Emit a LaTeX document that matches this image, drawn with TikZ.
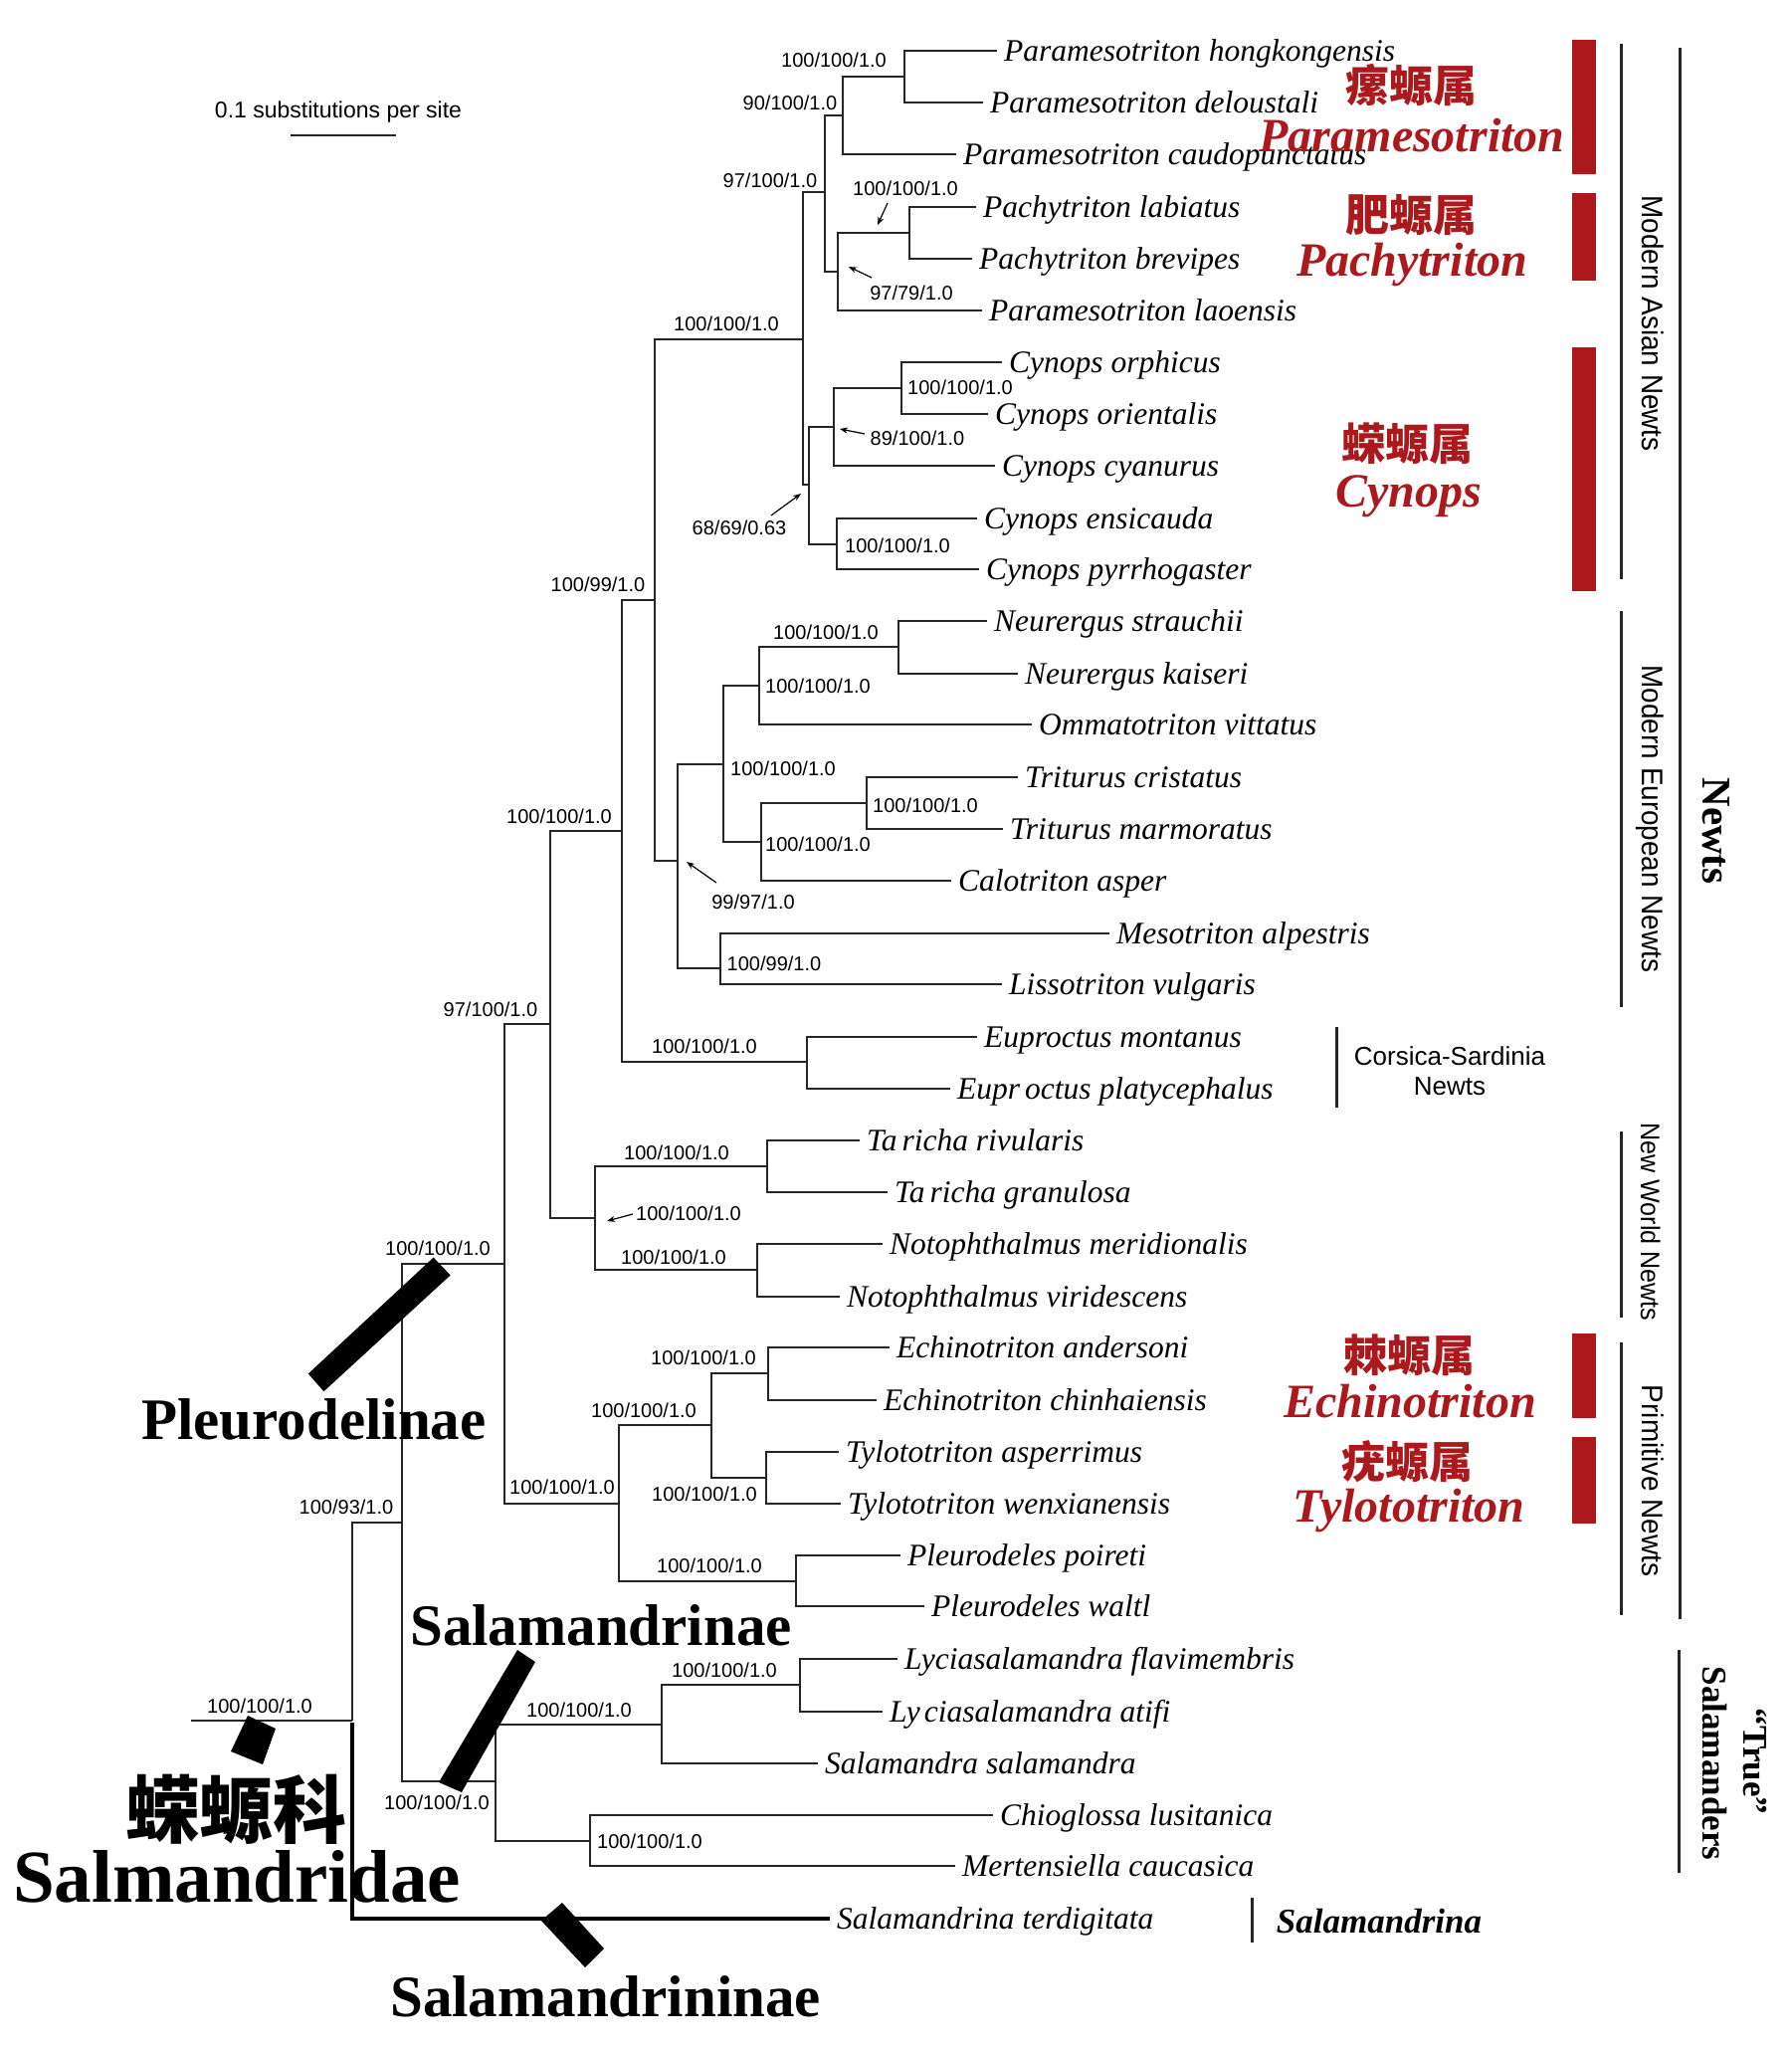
\documentclass[tikz,border=0pt]{standalone}
\usepackage{fontspec}
\setmainfont{Liberation Serif}
\setsansfont{Liberation Sans}
\newfontfamily\cjk{Noto Sans CJK SC}
\usetikzlibrary{arrows.meta}
\definecolor{genred}{RGB}{172,25,29}
\newcommand\mkleaf[4]{\coordinate (l-#1) at (#2,#3);
  \node[sp] (t-#1) at ([xshift=7pt,yshift=-10.5pt]l-#1) {#4};}
\begin{document}
\begin{tikzpicture}[x=1pt,y=-1pt,
  br/.style={line width=1.8pt, black!85, line join=miter},
  thickbr/.style={line width=4.5pt, black},
  sp/.style={font=\fontsize{31.5}{36}\selectfont\itshape, inner sep=0pt, anchor=base west},
  bs/.style={font=\sffamily\fontsize{20}{24}\selectfont, inner sep=0pt},
  arr/.style={line width=1.2pt, -{Stealth[length=8pt,width=6pt]}},
  bk/.style={line width=3pt, black!85},
  clade/.style={font=\sffamily\fontsize{30}{34}\selectfont, rotate=-90, inner sep=0pt, anchor=base},
  redlat/.style={font=\fontsize{48}{52}\selectfont\bfseries\itshape, text=genred, inner sep=0pt, anchor=base},
  redcjk/.style={font=\cjk\bfseries\fontsize{44}{48}\selectfont, text=genred, inner sep=0pt},
  bigbold/.style={font=\bfseries\fontsize{59}{64}\selectfont, inner sep=0pt, anchor=base west},
  redbar/.style={fill=genred}]
\useasboundingbox (0,0) rectangle (1800,2059);

% ---------- internal nodes ----------
\coordinate (Rs) at (192,1729);
\coordinate (R) at (354,1729);
\coordinate (A) at (404,1530);
\coordinate (P) at (507,1270);
\coordinate (S) at (498,1790);
\coordinate (N1) at (553,1029);
\coordinate (PR) at (622,1511);
\coordinate (N2) at (625,835);
\coordinate (NW) at (598,1224);
\coordinate (N3) at (658,603);
\coordinate (Eu) at (811,1067);
\coordinate (As) at (807,341);
\coordinate (Eur) at (681,865);
\coordinate (PP) at (829,193);
\coordinate (Cy) at (813,487);
\coordinate (Pa1) at (847,116);
\coordinate (Pa2) at (909,77);
\coordinate (Pc) at (842,273);
\coordinate (Pc2) at (914,234);
\coordinate (Cy1) at (838,429);
\coordinate (Cy2) at (841,547);
\coordinate (Cy3) at (906,390);
\coordinate (E1) at (727,768);
\coordinate (E2) at (724,973);
\coordinate (E3) at (763,689);
\coordinate (E4) at (903,650);
\coordinate (E5) at (765,846);
\coordinate (E6) at (871,807);
\coordinate (T) at (771,1172);
\coordinate (No) at (761,1276);
\coordinate (PR1) at (715,1432);
\coordinate (Ech) at (772,1380);
\coordinate (Tyl) at (770,1485);
\coordinate (Pl) at (800,1589);
\coordinate (S1) at (665,1733);
\coordinate (S2) at (593,1850);
\coordinate (Ly) at (804,1693);

% ---------- leaves ----------
\mkleaf{hk}{1002}{51}{Paramesotriton hongkongensis}
\mkleaf{del}{988}{103}{Paramesotriton deloustali}
\mkleaf{caud}{961}{155}{Paramesotriton caudopunctatus}
\mkleaf{lab}{981}{208}{Pachytriton labiatus}
\mkleaf{bre}{977}{260}{Pachytriton brevipes}
\mkleaf{lao}{987}{312}{Paramesotriton laoensis}
\mkleaf{orp}{1007}{364}{Cynops orphicus}
\mkleaf{ori}{993}{416}{Cynops orientalis}
\mkleaf{cya}{1000}{468}{Cynops cyanurus}
\mkleaf{ens}{982}{521}{Cynops ensicauda}
\mkleaf{pyr}{984}{572}{Cynops pyrrhogaster}
\mkleaf{str}{992}{624}{Neurergus strauchii}
\mkleaf{kai}{1023}{677}{Neurergus kaiseri}
\mkleaf{vit}{1037}{728}{Ommatotriton vittatus}
\mkleaf{cri}{1023}{781}{Triturus cristatus}
\mkleaf{mar}{1008}{833}{Triturus marmoratus}
\mkleaf{cal}{956}{885}{Calotriton asper}
\mkleaf{alp}{1115}{938}{Mesotriton alpestris}
\mkleaf{vul}{1007}{989}{Lissotriton vulgaris}
\mkleaf{mon}{982}{1042}{Euproctus montanus}
\mkleaf{pla}{955}{1094}{Eupr\hspace{5pt}octus platycephalus}
\mkleaf{riv}{864}{1146}{Ta\hspace{5pt}richa rivularis}
\mkleaf{gra}{892}{1198}{Ta\hspace{5pt}richa granulosa}
\mkleaf{mer}{887}{1250}{Notophthalmus meridionalis}
\mkleaf{vir}{844}{1303}{Notophthalmus viridescens}
\mkleaf{and}{894}{1354}{Echinotriton andersoni}
\mkleaf{chi}{881}{1407}{Echinotriton chinhaiensis}
\mkleaf{asp}{843}{1459}{Tylototriton asperrimus}
\mkleaf{wen}{845}{1511}{Tylototriton wenxianensis}
\mkleaf{poi}{905}{1563}{Pleurodeles poireti}
\mkleaf{wal}{929}{1614}{Pleurodeles waltl}
\mkleaf{fla}{902}{1667}{Lyciasalamandra flavimembris}
\mkleaf{ati}{887}{1720}{Ly\hspace{4pt}ciasalamandra atifi}
\mkleaf{sal}{822}{1772}{Salamandra salamandra}
\mkleaf{chio}{998}{1824}{Chioglossa lusitanica}
\mkleaf{mert}{960}{1875}{Mertensiella caucasica}
\mkleaf{ter}{834}{1928}{Salamandrina terdigitata}

% ---------- branches ----------
\draw[br] (Rs) -- (R);
\draw[br] (R) |- (A);
\draw[thickbr] ([yshift=-2pt]R) |- (l-ter);
\draw[br] (A) |- (P);  \draw[br] (A) |- (S);
\draw[br] (P) |- (N1); \draw[br] (P) |- (PR);
\draw[br] (N1) |- (N2); \draw[br] (N1) |- (NW);
\draw[br] (N2) |- (N3); \draw[br] (N2) |- (Eu);
\draw[br] (N3) |- (As); \draw[br] (N3) |- (Eur);
\draw[br] (As) |- (PP); \draw[br] (As) |- (Cy);
\draw[br] (PP) |- (Pa1); \draw[br] (PP) |- (Pc);
\draw[br] (Pa1) |- (Pa2); \draw[br] (Pa1) |- (l-caud);
\draw[br] (Pa2) |- (l-hk); \draw[br] (Pa2) |- (l-del);
\draw[br] (Pc) |- (Pc2); \draw[br] (Pc) |- (l-lao);
\draw[br] (Pc2) |- (l-lab); \draw[br] (Pc2) |- (l-bre);
\draw[br] (Cy) |- (Cy1); \draw[br] (Cy) |- (Cy2);
\draw[br] (Cy1) |- (Cy3); \draw[br] (Cy1) |- (l-cya);
\draw[br] (Cy3) |- (l-orp); \draw[br] (Cy3) |- (l-ori);
\draw[br] (Cy2) |- (l-ens); \draw[br] (Cy2) |- (l-pyr);
\draw[br] (Eur) |- (E1); \draw[br] (Eur) |- (E2);
\draw[br] (E1) |- (E3); \draw[br] (E1) |- (E5);
\draw[br] (E3) |- (E4); \draw[br] (E3) |- (l-vit);
\draw[br] (E4) |- (l-str); \draw[br] (E4) |- (l-kai);
\draw[br] (E5) |- (E6); \draw[br] (E5) |- (l-cal);
\draw[br] (E6) |- (l-cri); \draw[br] (E6) |- (l-mar);
\draw[br] (E2) |- (l-alp); \draw[br] (E2) |- (l-vul);
\draw[br] (Eu) |- (l-mon); \draw[br] (Eu) |- (l-pla);
\draw[br] (NW) |- (T); \draw[br] (NW) |- (No);
\draw[br] (T) |- (l-riv); \draw[br] (T) |- (l-gra);
\draw[br] (No) |- (l-mer); \draw[br] (No) |- (l-vir);
\draw[br] (PR) |- (PR1); \draw[br] (PR) |- (Pl);
\draw[br] (PR1) |- (Ech); \draw[br] (PR1) |- (Tyl);
\draw[br] (Ech) |- (l-and); \draw[br] (Ech) |- (l-chi);
\draw[br] (Tyl) |- (l-asp); \draw[br] (Tyl) |- (l-wen);
\draw[br] (Pl) |- (l-poi); \draw[br] (Pl) |- (l-wal);
\draw[br] (S) |- (S1); \draw[br] (S) |- (S2);
\draw[br] (S1) |- (Ly); \draw[br] (S1) |- (l-sal);
\draw[br] (Ly) |- (l-fla); \draw[br] (Ly) |- (l-ati);
\draw[br] (S2) |- (l-chio); \draw[br] (S2) |- (l-mert);

% ---------- support values ----------
\node[bs] (s-Pa2) at (838,60) {100/100/1.0};
\node[bs] (s-Pa1) at (794,103) {90/100/1.0};
\node[bs] (s-PP) at (774,181) {97/100/1.0};
\node[bs] (s-Pc2) at (910,189) {100/100/1.0};
\node[bs] (s-Pc) at (916,294) {97/79/1.0};
\node[bs] (s-As) at (730,325) {100/100/1.0};
\node[bs] (s-Cy3) at (965,389) {100/100/1.0};
\node[bs] (s-Cy1) at (922,440) {89/100/1.0};
\node[bs] (s-Cy) at (743,530) {68/69/0.63};
\node[bs] (s-Cy2) at (902,548) {100/100/1.0};
\node[bs] (s-N3) at (601,587) {100/99/1.0};
\node[bs] (s-E4) at (830,635) {100/100/1.0};
\node[bs] (s-E3) at (822,689) {100/100/1.0};
\node[bs] (s-E1) at (787,772) {100/100/1.0};
\node[bs] (s-E6) at (930,809) {100/100/1.0};
\node[bs] (s-N2) at (562,820) {100/100/1.0};
\node[bs] (s-E5) at (822,848) {100/100/1.0};
\node[bs] (s-Eur) at (757,906) {99/97/1.0};
\node[bs] (s-E2) at (778,968) {100/99/1.0};
\node[bs] (s-N1) at (493,1014) {97/100/1.0};
\node[bs] (s-Eu) at (708,1051) {100/100/1.0};
\node[bs] (s-T) at (680,1158) {100/100/1.0};
\node[bs] (s-NW) at (692,1219) {100/100/1.0};
\node[bs] (s-P) at (440,1254) {100/100/1.0};
\node[bs] (s-No) at (677,1263) {100/100/1.0};
\node[bs] (s-Ech) at (707,1364) {100/100/1.0};
\node[bs] (s-PR1) at (647,1417) {100/100/1.0};
\node[bs] (s-PR) at (565,1494) {100/100/1.0};
\node[bs] (s-Tyl) at (708,1501) {100/100/1.0};
\node[bs] (s-A) at (348,1514) {100/93/1.0};
\node[bs] (s-Pl) at (713,1573) {100/100/1.0};
\node[bs] (s-Ly) at (728,1678) {100/100/1.0};
\node[bs] (s-R) at (261,1714) {100/100/1.0};
\node[bs] (s-S1) at (582,1718) {100/100/1.0};
\node[bs] (s-S) at (439,1811) {100/100/1.0};
\node[bs] (s-S2) at (653,1850) {100/100/1.0};

% ---------- pointer arrows ----------
\coordinate (a1s) at (892,204); \coordinate (a1e) at (882,226);
\coordinate (a2s) at (876,279); \coordinate (a2e) at (853,268);
\coordinate (a3s) at (869,436); \coordinate (a3e) at (844,431);
\coordinate (a4s) at (775,518); \coordinate (a4e) at (805,496);
\coordinate (a5s) at (720,887); \coordinate (a5e) at (690,866);
\coordinate (a6s) at (636,1220); \coordinate (a6e) at (610,1227);
\draw[arr] (a1s) -- (a1e);
\draw[arr] (a2s) -- (a2e);
\draw[arr] (a3s) -- (a3e);
\draw[arr] (a4s) -- (a4e);
\draw[arr] (a5s) -- (a5e);
\draw[arr] (a6s) -- (a6e);

% ---------- scale bar ----------
\node[font=\sffamily\fontsize{23}{26}\selectfont, inner sep=0pt] (scale) at (340,113) {0.1 substitutions per site};
\coordinate (sb1) at (292,136); \coordinate (sb2) at (398,136);
\draw[line width=1.8pt, black!85] (sb1) -- (sb2);

% ---------- subfamily bars ----------
\fill (309.8,1380.4) -- (325.4,1398.2) -- (452.7,1281.4) -- (435.7,1263.6) -- cycle;
\fill (520,1658) -- (538,1670) -- (464,1801) -- (441,1791) -- cycle;
\fill (249,1724) -- (277,1737) -- (264,1773) -- (232,1760) -- cycle;
\fill (565,1912) -- (607,1958) -- (588,1977) -- (544,1930) -- cycle;

\node[bigbold] (pleuro) at (142,1446) {Pleurodelinae};
\node[bigbold] (salam) at (412,1653) {Salamandrinae};
\node[bigbold] (salamini) at (392,2026) {Salamandrininae};
\node[font=\cjk\bfseries\fontsize{74}{78}\selectfont, inner sep=0pt] (fam-cn) at (237,1818) {蝾螈科};
\node[font=\bfseries\fontsize{75}{80}\selectfont, inner sep=0pt, anchor=base west] (fam) at (13,1911) {Salmandridae};

% ---------- red genus bars and labels ----------
\fill[redbar] (1580,40) rectangle (1604,175);
\fill[redbar] (1580,194) rectangle (1604,282);
\fill[redbar] (1580,349) rectangle (1604,594);
\fill[redbar] (1580,1340) rectangle (1604,1425);
\fill[redbar] (1580,1444) rectangle (1604,1531);

\node[redcjk] (cn-para) at (1418,85) {瘰螈属};
\node[redlat] (la-para) at (1419,152) {Paramesotriton};
\node[redcjk] (cn-pachy) at (1418,216) {肥螈属};
\node[redlat] (la-pachy) at (1419,277) {Pachytriton};
\node[redcjk] (cn-cyn) at (1414,446) {蝾螈属};
\node[redlat] (la-cyn) at (1416,509) {Cynops};
\node[redcjk] (cn-ech) at (1416,1362) {棘螈属};
\node[redlat] (la-ech) at (1417,1424) {Echinotriton};
\node[redcjk] (cn-tyl) at (1414,1469) {疣螈属};
\node[redlat] (la-tyl) at (1416,1529) {Tylototriton};

% ---------- clade brackets ----------
\draw[bk] (1629,44) -- (1629,582);
\draw[bk] (1629,614) -- (1629,1012);
\draw[bk] (1629,1137) -- (1629,1324);
\draw[bk] (1629,1349) -- (1629,1623);
\draw[bk] (1688,48) -- (1688,1627);
\draw[bk] (1687,1658) -- (1687,1882);
\draw[bk] (1343,1032) -- (1343,1113);
\draw[bk] (1258,1907) -- (1258,1952);

\node[clade] (c-asian) at (1650,325) {\scalebox{0.93}[1]{Modern Asian Newts}};
\node[clade] (c-eur) at (1650,823) {\scalebox{0.93}[1]{Modern European Newts}};
\node[clade, font=\sffamily\fontsize{27}{30}\selectfont] (c-nw) at (1649,1228) {\scalebox{0.93}[1]{New World Newts}};
\node[clade] (c-prim) at (1650,1488) {\scalebox{0.93}[1]{Primitive Newts}};
\node[rotate=-90, anchor=base, inner sep=0pt, font=\bfseries\fontsize{41}{44}\selectfont] (c-newts) at (1711,835) {Newts};
\node[rotate=-90, anchor=base, inner sep=0pt, font=\bfseries\fontsize{35}{40}\selectfont] (c-true) at (1752,1770) {“True”};
\node[rotate=-90, anchor=base, inner sep=0pt, font=\bfseries\fontsize{35}{40}\selectfont] (c-sal) at (1711,1772) {Salamanders};
\node[anchor=base, inner sep=0pt, font=\sffamily\fontsize{26}{30}\selectfont] (c-cs1) at (1457,1070) {Corsica-Sardinia};
\node[anchor=base, inner sep=0pt, font=\sffamily\fontsize{26}{30}\selectfont] (c-cs2) at (1457,1100) {Newts};
\node[anchor=base, inner sep=0pt, font=\bfseries\itshape\fontsize{35}{40}\selectfont] (c-salina) at (1386,1942) {Salamandrina};
\end{tikzpicture}
\end{document}
